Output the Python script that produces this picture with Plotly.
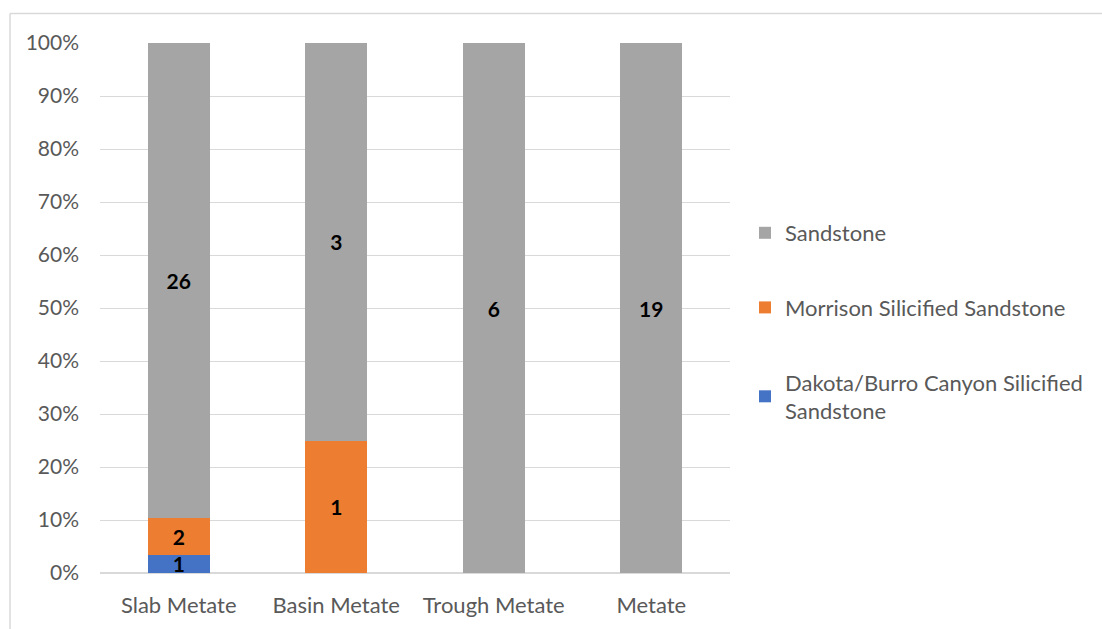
import plotly.graph_objects as go

categories = ["Slab Metate", "Basin Metate", "Trough Metate", "Metate"]
dakota = [1, 0, 0, 0]
morrison = [2, 1, 0, 0]
sandstone = [26, 3, 6, 19]

series = [
    ("Dakota/Burro Canyon Silicified<br>Sandstone", dakota, "#4472C4", 3),
    ("Morrison Silicified Sandstone", morrison, "#ED7D31", 2),
    ("Sandstone", sandstone, "#A5A5A5", 1),
]

W, H = 1102, 629
ml, mr, mt, mb = 100, 372, 43, 56
pw, ph = W - ml - mr, H - mt - mb

fig = go.Figure()
for i, (name, vals, col, rank) in enumerate(series):
    fig.add_trace(go.Bar(
        x=categories, y=vals, name=name, marker_color=col,
        marker_line_width=0,
        text=[str(v) if v else "" for v in vals],
        textposition="inside", insidetextanchor="middle",
        constraintext="none", textangle=0,
        textfont=dict(family="Lato", size=21, color="black", weight="bold"),
        legendgroup=f"g{rank}", legendrank=rank,
    ))

def px_x(p):
    return (p - ml) / pw

def px_y(p):
    return (H - mb - p) / ph

fig.update_layout(
    barmode="stack", barnorm="percent", bargap=0.606,
    width=W, height=H,
    margin=dict(l=ml, r=mr, t=mt, b=mb, autoexpand=False),
    paper_bgcolor="white", plot_bgcolor="white",
    font=dict(family="Lato", size=21, color="#595959"),
    showlegend=True,
    legend=dict(x=px_x(745), xanchor="left", y=px_y(322), yanchor="middle",
                traceorder="grouped", tracegroupgap=43,
                font=dict(size=22, color="#595959"), itemwidth=30),
    xaxis=dict(showgrid=False, showline=False, ticks="", tickfont=dict(size=22),
               ticklabelstandoff=17),
    yaxis=dict(range=[0, 100], dtick=10, ticksuffix="%", showgrid=True,
               gridcolor="#D9D9D9", gridwidth=1, zeroline=True,
               zerolinecolor="#D9D9D9", showline=False, tickfont=dict(size=21),
               ticklabelstandoff=20),
    shapes=[
        dict(type="line", xref="paper", yref="paper", x0=px_x(10), x1=px_x(1110),
             y0=px_y(13.5), y1=px_y(13.5), line=dict(color="#D9D9D9", width=1.5)),
        dict(type="line", xref="paper", yref="paper", x0=px_x(10), x1=px_x(10),
             y0=px_y(13.5), y1=px_y(640), line=dict(color="#D9D9D9", width=1.5)),
    ],
)

fig.write_html("out.html", config={"displayModeBar": False},
               post_script="document.body.style.margin='0';")
